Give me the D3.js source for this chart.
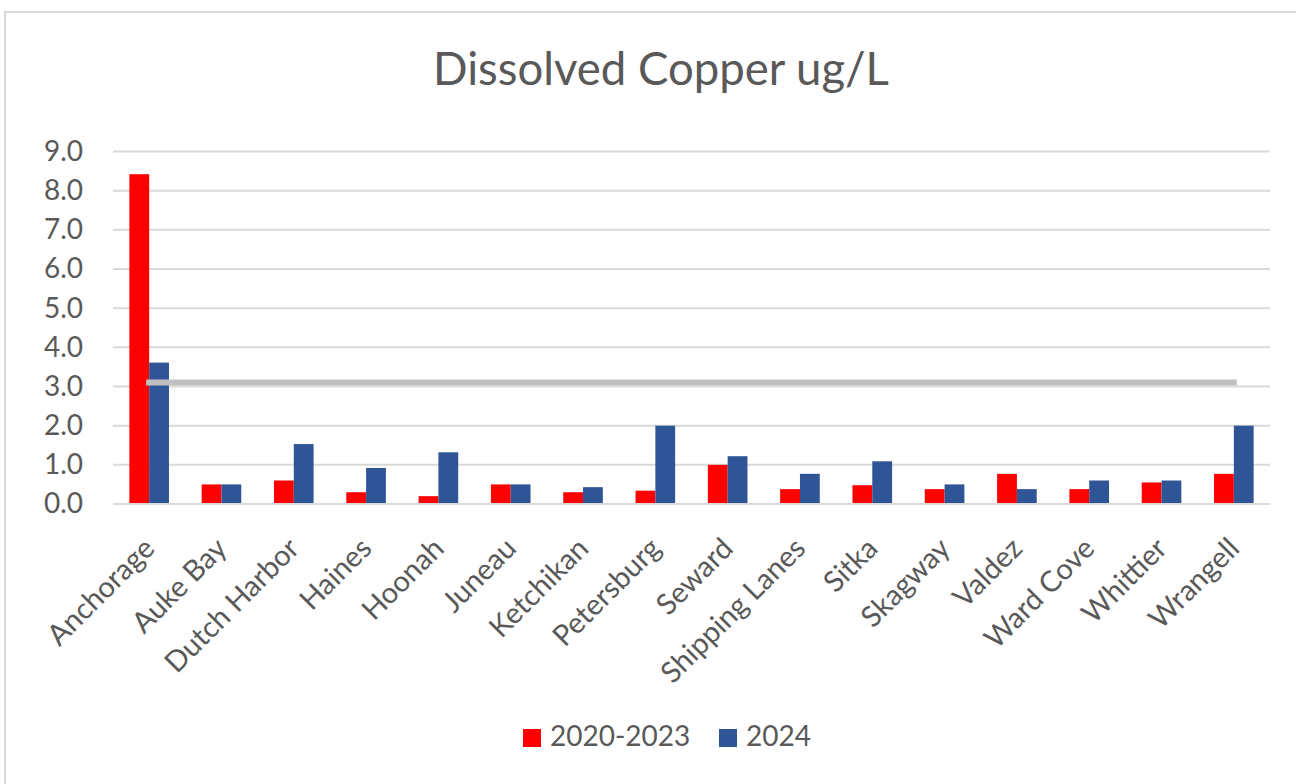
<!DOCTYPE html>
<html>
<head>
<meta charset="utf-8">
<script src="https://cdn.jsdelivr.net/npm/d3@7"></script>
<style>
  html, body { margin: 0; padding: 0; background: #fff; }
  svg { display: block; font-family: Lato, "Open Sans", sans-serif; }
</style>
</head>
<body>
<svg id="chart" width="1296" height="784"></svg>
<script>
// Dissolved copper by site, ug/L
const sites = ["Anchorage", "Auke Bay", "Dutch Harbor", "Haines", "Hoonah", "Juneau",
  "Ketchikan", "Petersburg", "Seward", "Shipping Lanes", "Sitka", "Skagway",
  "Valdez", "Ward Cove", "Whittier", "Wrangell"];
const seriesNames = ["2020-2023", "2024"];
const values2020_2023 = [8.42, 0.5, 0.6, 0.3, 0.2, 0.5, 0.3, 0.34, 1.0, 0.38, 0.48, 0.38, 0.77, 0.38, 0.55, 0.77];
const values2024 = [3.61, 0.5, 1.53, 0.92, 1.32, 0.5, 0.43, 2.0, 1.22, 0.77, 1.09, 0.5, 0.38, 0.6, 0.6, 2.0];
const criterion = 3.1;
const yTicks = [0, 1, 2, 3, 4, 5, 6, 7, 8, 9];

const colors = { "2020-2023": "#FF0000", "2024": "#2F5597" };
const textColor = "#595959";
const labelSize = "28px";

const svg = d3.select("#chart");

// chart frame
svg.append("rect")
  .attr("x", 5).attr("y", 12)
  .attr("width", 1400).attr("height", 900)
  .attr("fill", "#fff")
  .attr("stroke", "#d9d9d9").attr("stroke-width", 2);

const plot = { left: 113, right: 1270, top: 151.5, bottom: 504 };

const x = d3.scaleBand().domain(sites).range([plot.left, plot.right]).padding(0);
const xInner = d3.scaleBand().domain(seriesNames)
  .range([0, x.bandwidth()]).paddingOuter(0.825).paddingInner(0);
const y = d3.scaleLinear().domain([0, 9]).range([plot.bottom, plot.top]);

// gridlines
svg.append("g").selectAll("line").data(yTicks).join("line")
  .attr("x1", plot.left).attr("x2", plot.right)
  .attr("y1", d => y(d)).attr("y2", d => y(d))
  .attr("stroke", "#d9d9d9").attr("stroke-width", 2);

// y axis labels
const yAxis = d3.axisLeft(y).tickValues(yTicks).tickFormat(d3.format(".1f")).tickSize(0).tickPadding(0);
const yg = svg.append("g").attr("transform", `translate(83,0)`).call(yAxis);
yg.select(".domain").remove();
yg.selectAll("text")
  .attr("fill", textColor)
  .style("font-size", labelSize)
  .style("font-family", "Lato, 'Open Sans', sans-serif");

// bars
const rows = sites.map((s, i) => ({ site: s, vals: [
  { key: "2020-2023", v: values2020_2023[i] },
  { key: "2024", v: values2024[i] }
]}));

svg.append("g").selectAll("g").data(rows).join("g")
  .attr("transform", d => `translate(${x(d.site)},0)`)
  .selectAll("rect").data(d => d.vals).join("rect")
  .attr("x", d => xInner(d.key))
  .attr("width", xInner.bandwidth())
  .attr("y", d => y(d.v))
  .attr("height", d => y(0) - y(d.v))
  .attr("fill", d => colors[d.key]);

// baseline
svg.append("line")
  .attr("x1", plot.left).attr("x2", plot.right)
  .attr("y1", y(0)).attr("y2", y(0))
  .attr("stroke", "#d9d9d9").attr("stroke-width", 2);

// criterion line across sites
const critLine = d3.line()
  .x(d => x(d) + x.bandwidth() / 2)
  .y(() => y(criterion));
svg.append("path")
  .datum([sites[0], sites[sites.length - 1]])
  .attr("d", critLine)
  .attr("fill", "none")
  .attr("stroke", "#BFBFBF")
  .attr("stroke-width", 6)
  .attr("stroke-linecap", "square");

// category labels
const xAxis = d3.axisBottom(x).tickSize(0).tickPadding(0);
const xg = svg.append("g").attr("transform", `translate(0,${plot.bottom})`).call(xAxis);
xg.select(".domain").remove();
xg.selectAll("text")
  .attr("fill", textColor)
  .style("font-size", "29px")
  .style("font-family", "Lato, 'Open Sans', sans-serif")
  .attr("text-anchor", "end")
  .attr("y", 0)
  .attr("dy", "0.35em")
  .attr("transform", "translate(0,39) rotate(-45)");

// title
svg.append("text")
  .attr("x", 661).attr("y", 85)
  .attr("text-anchor", "middle")
  .attr("fill", textColor)
  .style("font-size", "45.5px")
  .text("Dissolved Copper ug/L");

// legend
const legend = svg.append("g").attr("transform", "translate(523,729)");
const legendItems = [
  { key: "2020-2023", dx: 0 },
  { key: "2024", dx: 196 }
];
const li = legend.selectAll("g").data(legendItems).join("g")
  .attr("transform", d => `translate(${d.dx},0)`);
li.append("rect")
  .attr("width", 18).attr("height", 18)
  .attr("fill", d => colors[d.key]);
li.append("text")
  .attr("x", 27).attr("y", 17)
  .attr("fill", textColor)
  .style("font-size", labelSize)
  .text(d => d.key);
</script>
</body>
</html>
